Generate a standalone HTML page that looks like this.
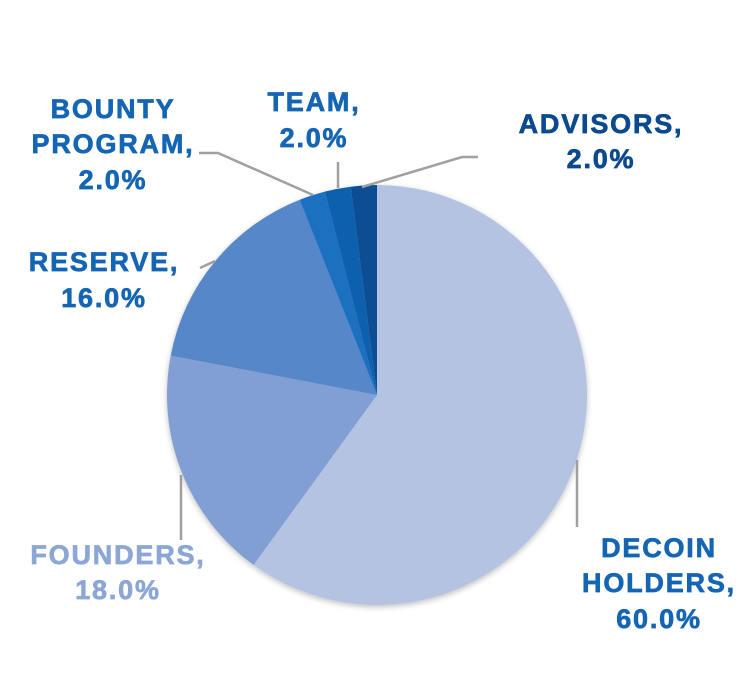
<!DOCTYPE html>
<html><head><style>body{margin:0;background:#fff}svg{display:block}text{font-family:"Liberation Sans",sans-serif;font-weight:bold;font-size:27px;letter-spacing:1.8px;text-anchor:middle;stroke-width:0.7px}</style></head>
<body>
<svg width="738" height="676" viewBox="0 0 738 676">
<defs><filter id="sh" x="-10%" y="-10%" width="120%" height="120%"><feDropShadow dx="0" dy="2" stdDeviation="3" flood-color="#000" flood-opacity="0.25"/></filter></defs>
<g filter="url(#sh)">
<path d="M377,395 L377,185 A210,210 0 1 1 253.6,564.9 Z" fill="#b4c3e1"/>
<path d="M377,395 L253.6,564.9 A210,210 0 0 1 170.7,355.6 Z" fill="#819fd2"/>
<path d="M377,395 L170.7,355.6 A210,210 0 0 1 299.7,199.7 Z" fill="#5787c9"/>
<path d="M377,395 L299.7,199.7 A210,210 0 0 1 324.8,191.6 Z" fill="#1a6fc0"/>
<path d="M377,395 L324.8,191.6 A210,210 0 0 1 350.7,186.7 Z" fill="#0d60ae"/>
<path d="M377,395 L350.7,186.7 A210,210 0 0 1 377,185 Z" fill="#0a4e94"/>
</g>
<g stroke="#a0a0a0" stroke-width="2.5" fill="none">
<polyline points="577,460 577,527"/>
<polyline points="181,475 181,540"/>
<polyline points="200,268 215,261"/>
<polyline points="199,153 218,153 313,195"/>
<polyline points="338,162 338,188"/>
<polyline points="478,157 462,157 362,187"/>
</g>
<g fill="#1565b5" stroke="#1565b5">
<text x="113" y="118">BOUNTY</text>
<text x="113" y="153">PROGRAM,</text>
<text x="113" y="189">2.0%</text>
<text x="314" y="111">TEAM,</text>
<text x="314" y="147">2.0%</text>
<text x="104" y="271">RESERVE,</text>
<text x="104" y="307">16.0%</text>
<text x="659" y="557">DECOIN</text>
<text x="659" y="592">HOLDERS,</text>
<text x="659" y="628">60.0%</text>
</g>
<g fill="#0b4a8c" stroke="#0b4a8c">
<text x="601" y="133">ADVISORS,</text>
<text x="601" y="168">2.0%</text>
</g>
<g fill="#8ca6d6" stroke="#8ca6d6">
<text x="118" y="564">FOUNDERS,</text>
<text x="118" y="599">18.0%</text>
</g>
</svg>
</body></html>
